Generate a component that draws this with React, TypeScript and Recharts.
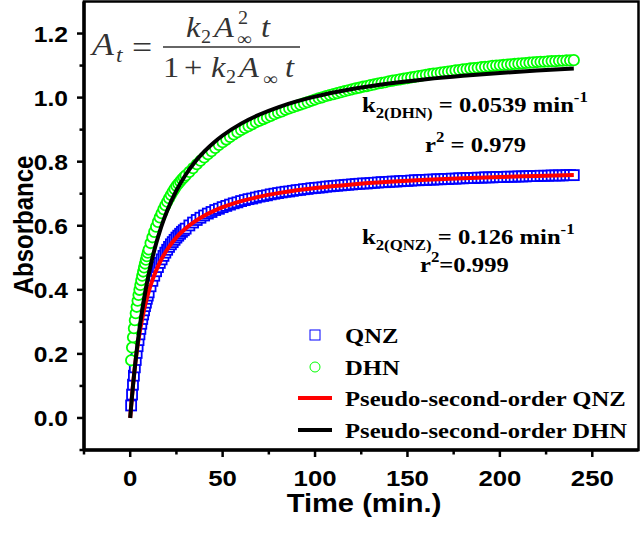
import { ComposedChart, XAxis, YAxis, Scatter, Line, ReferenceArea, Legend } from 'recharts'

// sampling times (min) of the absorbance readings
const TIME = [
  0.5, 1, 1.5, 2, 2.5, 3, 3.5, 4, 4.5, 5, 5.5, 6, 6.5, 7, 7.5, 8, 8.5, 9, 9.5, 10,
  11, 12, 13, 14, 15, 16, 17, 18, 19, 20, 21, 22, 23, 24, 25, 26, 27, 28, 29, 30,
  32, 34, 36, 38, 40, 42, 44, 46, 48, 50, 52, 54, 56, 58, 60, 62, 64, 66, 68, 70,
  72, 74, 76, 78, 80, 82, 84, 86, 88, 90, 92, 94, 96, 98, 100, 102, 104, 106, 108, 110,
  112, 114, 116, 118, 120, 122, 124, 126, 128, 130, 132, 134, 136, 138, 140, 142, 144, 146, 148, 150,
  152, 154, 156, 158, 160, 162, 164, 166, 168, 170, 172, 174, 176, 178, 180, 182, 184, 186, 188, 190,
  192, 194, 196, 198, 200, 202, 204, 206, 208, 210, 212, 214, 216, 218, 220, 222, 224, 226, 228, 230,
  232, 234, 236, 238, 240,
]

const QNZ_ABS = [
  0.039, 0.073, 0.104, 0.132, 0.158, 0.181, 0.203, 0.224, 0.243, 0.261, 0.278, 0.294, 0.309, 0.323, 0.336, 0.349, 0.36, 0.372, 0.382, 0.392,
  0.411, 0.428, 0.444, 0.458, 0.471, 0.484, 0.495, 0.506, 0.516, 0.525, 0.534, 0.542, 0.549, 0.556, 0.563, 0.569, 0.575, 0.581, 0.586, 0.591,
  0.601, 0.61, 0.618, 0.625, 0.632, 0.638, 0.643, 0.649, 0.653, 0.658, 0.662, 0.666, 0.67, 0.673, 0.677, 0.68, 0.683, 0.685, 0.688, 0.691,
  0.693, 0.695, 0.698, 0.7, 0.702, 0.704, 0.706, 0.707, 0.709, 0.711, 0.712, 0.714, 0.715, 0.717, 0.718, 0.719, 0.72, 0.722, 0.723, 0.724,
  0.725, 0.726, 0.727, 0.728, 0.729, 0.73, 0.731, 0.732, 0.732, 0.733, 0.734, 0.735, 0.736, 0.736, 0.737, 0.738, 0.738, 0.739, 0.74, 0.74,
  0.741, 0.742, 0.742, 0.743, 0.743, 0.744, 0.744, 0.745, 0.745, 0.746, 0.746, 0.747, 0.747, 0.748, 0.748, 0.749, 0.749, 0.749, 0.75, 0.75,
  0.751, 0.751, 0.751, 0.752, 0.752, 0.752, 0.753, 0.753, 0.753, 0.754, 0.754, 0.754, 0.755, 0.755, 0.755, 0.756, 0.756, 0.756, 0.757, 0.757,
  0.757, 0.757, 0.758, 0.758, 0.758,
]

const DHN_ABS = [
  0.18, 0.22, 0.252, 0.28, 0.305, 0.327, 0.347, 0.366, 0.384, 0.4, 0.415, 0.43, 0.444, 0.457, 0.47, 0.482, 0.494, 0.505, 0.516, 0.526,
  0.546, 0.564, 0.581, 0.597, 0.612, 0.626, 0.639, 0.652, 0.664, 0.675, 0.686, 0.696, 0.706, 0.715, 0.724, 0.731, 0.738, 0.745, 0.751, 0.757,
  0.768, 0.78, 0.792, 0.803, 0.813, 0.823, 0.833, 0.843, 0.852, 0.861, 0.869, 0.877, 0.885, 0.892, 0.899, 0.905, 0.911, 0.917, 0.923, 0.928,
  0.933, 0.938, 0.943, 0.948, 0.953, 0.957, 0.962, 0.966, 0.97, 0.974, 0.978, 0.982, 0.986, 0.99, 0.994, 0.998, 1.001, 1.005, 1.008, 1.011,
  1.014, 1.017, 1.02, 1.023, 1.026, 1.029, 1.031, 1.034, 1.036, 1.039, 1.041, 1.044, 1.046, 1.048, 1.051, 1.053, 1.055, 1.057, 1.059, 1.061,
  1.063, 1.065, 1.067, 1.069, 1.071, 1.073, 1.075, 1.076, 1.078, 1.08, 1.081, 1.083, 1.085, 1.086, 1.088, 1.089, 1.091, 1.092, 1.093, 1.095,
  1.096, 1.097, 1.099, 1.1, 1.101, 1.102, 1.103, 1.104, 1.105, 1.106, 1.107, 1.108, 1.109, 1.11, 1.111, 1.112, 1.112, 1.113, 1.114, 1.114,
  1.115, 1.115, 1.116, 1.116, 1.117,
]

// pseudo-second-order fit curves
const FIT_TIME = [0, 0.5, 1, 1.5, 2, 3, 4, 5, 6, 7, 8, 9, 10, 12, 14, 16, 18, 20, 25, 30, 35, 40, 45, 50, 60, 70, 80, 90, 100, 120, 140, 160, 180, 200, 220, 240]
const FIT_QNZ = [0, 0.0375, 0.0715, 0.1026, 0.1312, 0.1817, 0.225, 0.2625, 0.2954, 0.3244, 0.3502, 0.3733, 0.3941, 0.43, 0.4599, 0.4853, 0.507, 0.5258, 0.5636, 0.5918, 0.6138, 0.6314, 0.6458, 0.6578, 0.6767, 0.6909, 0.7018, 0.7107, 0.7179, 0.729, 0.7371, 0.7433, 0.7482, 0.7523, 0.7555, 0.7583]
const FIT_DHN = [0, 0.0353, 0.0686, 0.0999, 0.1296, 0.1841, 0.2332, 0.2776, 0.3179, 0.3547, 0.3884, 0.4195, 0.4481, 0.4993, 0.5436, 0.5824, 0.6166, 0.647, 0.71, 0.7593, 0.7989, 0.8314, 0.8586, 0.8817, 0.9188, 0.9472, 0.9697, 0.988, 1.003, 1.0266, 1.044, 1.0575, 1.0683, 1.0771, 1.0844, 1.0906]

const X_TICKS = [-25, 0, 25, 50, 75, 100, 125, 150, 175, 200, 225, 250]
const Y_TICKS = [-0.1, 0, 0.1, 0.2, 0.3, 0.4, 0.5, 0.6, 0.7, 0.8, 0.9, 1.0, 1.1, 1.2]

const LEGEND_LABELS = ['QNZ', 'DHN', 'Pseudo-second-order QNZ', 'Pseudo-second-order DHN']

const qnzPoints = TIME.map((t, i) => ({ t, a: QNZ_ABS[i] }))
const dhnPoints = TIME.map((t, i) => ({ t, a: DHN_ABS[i] }))
const qnzFit = FIT_TIME.map((t, i) => ({ t, a: FIT_QNZ[i] }))
const dhnFit = FIT_TIME.map((t, i) => ({ t, a: FIT_DHN[i] }))

const SX = 1.12
const SANS = '"Liberation Sans", Arial, sans-serif'
const SERIF = '"Liberation Serif", "Times New Roman", serif'
const BLUE = '#0000ff'
const GREEN = '#00ff00'

function SquareMark({ cx, cy }: any) {
  return <rect x={cx - 5} y={cy - 5} width={10} height={10} fill="#fff" stroke={BLUE} strokeWidth={1.8} />
}

function CircleMark({ cx, cy }: any) {
  return <circle cx={cx} cy={cy} r={5.2} fill="#fff" stroke={GREEN} strokeWidth={1.8} />
}

function XTick({ x, y, payload }: any) {
  const major = payload.value % 50 === 0
  return (
    <g>
      <line x1={x} x2={x} y1={y} y2={y + (major ? 7 : 4.5)} stroke="#000" strokeWidth={2.5} />
      {major && (
        <text transform={`translate(${x},${y + 36}) scale(${SX},1)`} textAnchor="middle" fontFamily={SANS} fontWeight="bold" fontSize={23} fill="#000">
          {payload.value}
        </text>
      )}
    </g>
  )
}

function YTick({ x, y, payload }: any) {
  const v = payload.value
  const major = v >= 0 && Math.round(v * 10) % 2 === 0
  return (
    <g>
      <line x1={x} x2={x - (major ? 7 : 4.5)} y1={y} y2={y} stroke="#000" strokeWidth={2.5} />
      {major && (
        <text transform={`translate(${x - 16},${y + 8}) scale(${SX},1)`} textAnchor="end" fontFamily={SANS} fontWeight="bold" fontSize={22} fill="#000">
          {v.toFixed(1)}
        </text>
      )}
    </g>
  )
}

function LegendBox() {
  const rowY = [17, 49, 80, 112]
  return (
    <svg width={350} height={130}>
      <rect x={20} y={rowY[0] - 5} width={10} height={10} fill="#fff" stroke={BLUE} strokeWidth={1} />
      <circle cx={25} cy={rowY[1]} r={5} fill="#fff" stroke={GREEN} strokeWidth={1} />
      <line x1={8} x2={42} y1={rowY[2]} y2={rowY[2]} stroke="#ff0000" strokeWidth={4} />
      <line x1={8} x2={42} y1={rowY[3]} y2={rowY[3]} stroke="#000" strokeWidth={4} />
      {LEGEND_LABELS.map((label, i) => (
        <text key={label} transform={`translate(55,${rowY[i] + 8}) scale(${SX},1)`} fontFamily={SERIF} fontWeight="bold" fontSize={22} fill="#000">
          {label}
        </text>
      ))}
    </svg>
  )
}

function RateLabel({ x, y, name, k }: { x: number; y: number; name: string; k: string }) {
  return (
    <text transform={`translate(${x},${y}) scale(${SX},1)`} fontFamily={SERIF} fontWeight="bold" fontSize={22} fill="#000">
      k
      <tspan fontSize={15} dy={6}>{`2(${name})`}</tspan>
      <tspan dy={-6}>{` = ${k} min`}</tspan>
      <tspan fontSize={15} dy={-10}>-1</tspan>
    </text>
  )
}

function R2Label({ x, y, text }: { x: number; y: number; text: string }) {
  return (
    <text transform={`translate(${x},${y}) scale(${SX},1)`} fontFamily={SERIF} fontWeight="bold" fontSize={22} fill="#000">
      r
      <tspan fontSize={15} dy={-10}>2</tspan>
      <tspan dy={10}>{text}</tspan>
    </text>
  )
}

function MathText({ x, y, size, children, italic = true }: any) {
  return (
    <text transform={`translate(${x},${y}) scale(${SX},1)`} fontFamily={SERIF} fontStyle={italic ? 'italic' : 'normal'} fontSize={size} fill="#333">
      {children}
    </text>
  )
}

// A_t = k2 A∞² t / (1 + k2 A∞ t), scripts placed by hand
function Formula() {
  return (
    <g>
      <MathText x={92} y={55} size={32}>A</MathText>
      <MathText x={116} y={62} size={21}>t</MathText>
      <MathText x={132} y={58} size={32} italic={false}>=</MathText>
      <MathText x={186} y={37} size={29}>k</MathText>
      <MathText x={201} y={43} size={18} italic={false}>2</MathText>
      <MathText x={214} y={37} size={29}>A</MathText>
      <MathText x={238} y={24} size={18} italic={false}>2</MathText>
      <MathText x={237} y={45} size={18} italic={false}>∞</MathText>
      <MathText x={261} y={37} size={29}>t</MathText>
      <line x1={163} x2={300} y1={47} y2={47} stroke="#333" strokeWidth={1.3} />
      <MathText x={163} y={77} size={29} italic={false}>1</MathText>
      <MathText x={184} y={77} size={29} italic={false}>+</MathText>
      <MathText x={211} y={77} size={29}>k</MathText>
      <MathText x={226} y={83} size={18} italic={false}>2</MathText>
      <MathText x={239} y={77} size={29}>A</MathText>
      <MathText x={263} y={85} size={18} italic={false}>∞</MathText>
      <MathText x={285} y={77} size={29}>t</MathText>
    </g>
  )
}

export default function App() {
  return (
    <div style={{ position: 'absolute', left: 0, top: 0, width: 643, height: 538, background: '#fff' }}>
      <ComposedChart width={643} height={538} margin={{ top: 1.5, right: 4.5, bottom: 0, left: 0 }}>
        <XAxis
          type="number"
          dataKey="t"
          domain={[-25, 275]}
          ticks={X_TICKS}
          allowDataOverflow
          height={88}
          tickSize={0}
          tickMargin={0}
          tickLine={false}
          tick={<XTick />}
          axisLine={{ stroke: '#000', strokeWidth: 3.5 }}
          interval={0}
        />
        <YAxis
          type="number"
          dataKey="a"
          domain={[-0.1, 1.3]}
          ticks={Y_TICKS}
          allowDataOverflow
          width={84}
          tickSize={0}
          tickMargin={0}
          tickLine={false}
          tick={<YTick />}
          axisLine={{ stroke: '#000', strokeWidth: 3.5 }}
          interval={0}
        />
        <ReferenceArea x1={-25} x2={275} y1={-0.1} y2={1.3} fill="none" fillOpacity={0} stroke="#000" strokeWidth={2.5} ifOverflow="visible" />
        <Scatter name="QNZ" data={qnzPoints} shape={<SquareMark />} isAnimationActive={false} />
        <Scatter name="DHN" data={dhnPoints} shape={<CircleMark />} isAnimationActive={false} />
        <Line name="Pseudo-second-order QNZ" data={qnzFit} dataKey="a" type="monotone" stroke="#ff0000" strokeWidth={4} dot={false} activeDot={false} isAnimationActive={false} zIndex={700} />
        <Line name="Pseudo-second-order DHN" data={dhnFit} dataKey="a" type="monotone" stroke="#000" strokeWidth={4} dot={false} activeDot={false} isAnimationActive={false} zIndex={700} />
        <Legend
          layout="vertical"
          align="center"
          verticalAlign="middle"
          wrapperStyle={{ left: 290, top: 318, width: 350, height: 130 }}
          content={() => <LegendBox />}
        />
      </ComposedChart>
      <svg width={643} height={538} style={{ position: 'absolute', left: 0, top: 0, pointerEvents: 'none' }}>
        <Formula />
        <RateLabel x={362} y={112} name="DHN" k="0.0539" />
        <R2Label x={425} y={152} text=" = 0.979" />
        <RateLabel x={362} y={244} name="QNZ" k="0.126" />
        <R2Label x={420} y={272} text="=0.999" />
        <text transform={`translate(33,225) rotate(-90) scale(1,${SX})`} textAnchor="middle" fontFamily={SANS} fontWeight="bold" fontSize={24} fill="#000">
          Absorbance
        </text>
        <text transform={`translate(364,512) scale(${SX},1)`} textAnchor="middle" fontFamily={SANS} fontWeight="bold" fontSize={26} fill="#000">
          Time (min.)
        </text>
      </svg>
    </div>
  )
}
